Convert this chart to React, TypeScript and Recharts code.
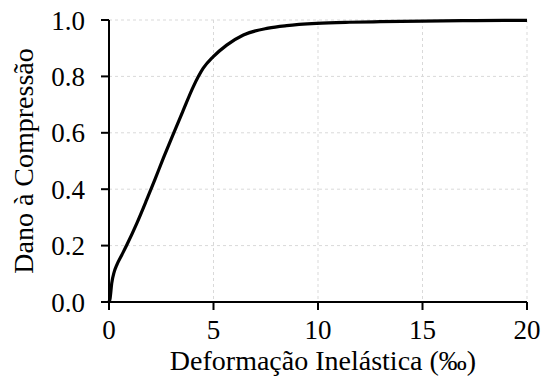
import React from "react";
import {
  LineChart,
  Line,
  XAxis,
  YAxis,
  CartesianGrid,
} from "recharts";

// Deformação inelástica (‰) e dano à compressão
const strain = [
  0, 0.05, 0.13, 0.25, 0.37, 0.6, 0.85, 1.33, 1.8, 2.2, 2.6, 3.1, 3.56, 4.03,
  4.51, 4.99, 5.63, 6.43, 7.62, 8.5, 9.94, 11.5, 12.97, 15, 17.5, 20,
];
const damage = [
  0, 0.012, 0.066, 0.107, 0.131, 0.165, 0.202, 0.279, 0.362, 0.435, 0.51, 0.6,
  0.681, 0.763, 0.829, 0.87, 0.911, 0.947, 0.971, 0.98, 0.988, 0.992, 0.994,
  0.996, 0.998, 0.999,
];

const xTicks = [0, 5, 10, 15, 20];
const yTicks = [0, 0.2, 0.4, 0.6, 0.8, 1.0];

const data = strain.map((x, i) => ({ x, d: damage[i] }));

const FONT = "Liberation Serif";
const FS = 27;
const LABEL_FS = 28;

const YLabel = (props: any) => {
  const { viewBox } = props;
  const x = 33;
  const y = viewBox.y + viewBox.height / 2;
  return (
    <text
      x={x}
      y={y}
      transform={`rotate(-90, ${x}, ${y})`}
      textAnchor="middle"
      fontFamily={FONT}
      fontSize={LABEL_FS}
      fill="#000"
    >
      Dano à Compressão
    </text>
  );
};

const XLabel = (props: any) => {
  const { viewBox } = props;
  const x = viewBox.x + viewBox.width / 2 + 5;
  return (
    <text
      x={x}
      y={370}
      textAnchor="middle"
      fontFamily={FONT}
      fontSize={LABEL_FS}
      fill="#000"
    >
      Deformação Inelástica (‰)
    </text>
  );
};

export default function App() {
  const tickStyle = { fill: "#000", fontFamily: FONT, fontSize: FS };
  return (
    <div style={{ position: "absolute", left: 0, top: 0 }}>
      <LineChart
        width={544}
        height={378}
        data={data}
        margin={{ top: 20, right: 17, bottom: 0, left: 0 }}
      >
        <CartesianGrid
          stroke="#d9d9d9"
          strokeDasharray="3 3"
          horizontalValues={yTicks}
          verticalValues={xTicks}
        />
        <XAxis
          dataKey="x"
          type="number"
          domain={[0, 20]}
          ticks={xTicks}
          height={76}
          tickSize={8}
          tickMargin={10}
          tick={tickStyle}
          axisLine={{ stroke: "#000", strokeWidth: 2 }}
          tickLine={{ stroke: "#000", strokeWidth: 2 }}
          label={XLabel}
        />
        <YAxis
          type="number"
          domain={[0, 1]}
          ticks={yTicks}
          width={109}
          tickSize={8}
          tickMargin={16}
          tick={tickStyle}
          tickFormatter={(v: number) => v.toFixed(1)}
          axisLine={{ stroke: "#000", strokeWidth: 2 }}
          tickLine={{ stroke: "#000", strokeWidth: 2 }}
          label={YLabel}
        />
        <Line
          dataKey="d"
          type="monotone"
          stroke="#000"
          strokeWidth={3.2}
          dot={false}
          isAnimationActive={false}
        />
      </LineChart>
    </div>
  );
}
